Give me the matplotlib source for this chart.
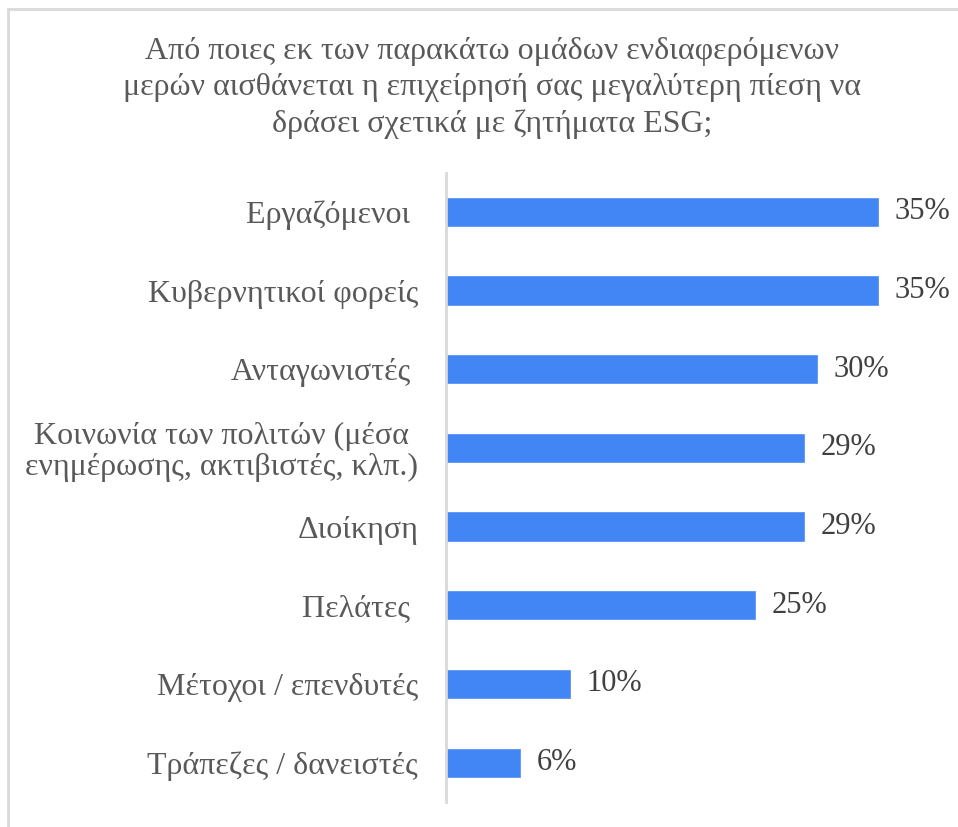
import matplotlib
matplotlib.use("Agg")
import matplotlib.pyplot as plt
from matplotlib.lines import Line2D

categories = [
    "Εργαζόμενοι ",
    "Κυβερνητικοί φορείς",
    "Ανταγωνιστές ",
    "Κοινωνία των πολιτών (μέσα\nενημέρωσης, ακτιβιστές, κλπ.)",
    "Διοίκηση",
    "Πελάτες ",
    "Μέτοχοι / επενδυτές",
    "Τράπεζες / δανειστές",
]
values = [35, 35, 30, 29, 29, 25, 10, 6]
value_labels = ["35%", "35%", "30%", "29%", "29%", "25%", "10%", "6%"]
title = ("Από ποιες εκ των παρακάτω ομάδων ενδιαφερόμενων\n"
         "μερών αισθάνεται η επιχείρησή σας μεγαλύτερη πίεση να\n"
         "δράσει σχετικά με ζητήματα ESG;")

plt.rcParams['font.family'] = ['Liberation Serif', 'DejaVu Serif']

W, H = 958, 827
fig = plt.figure(figsize=(W / 100, H / 100), dpi=100)
fig.patch.set_facecolor("white")

left, right = 446, 940
top, bottom = 172.6, 802
ax = fig.add_axes([left / W, 1 - bottom / H, (right - left) / W, (bottom - top) / H])

ypos = list(range(len(categories)))
ax.barh(ypos, values, height=0.36, color="#4285F4", edgecolor="#5a95f5", linewidth=0.6)
ax.set_xlim(0, 40)
ax.set_ylim(len(categories) - 0.5, -0.5)
ax.set_yticks(ypos)
ax.set_yticklabels(categories, fontsize=23, color="#595959", multialignment="center",
                   linespacing=1.05)
ax.tick_params(axis="y", length=0, pad=20)
ax.set_xticks([])
for s in ["top", "right", "bottom"]:
    ax.spines[s].set_visible(False)
ax.spines["left"].set_color("#d9d9d9")
ax.spines["left"].set_linewidth(2)

for y, v, lab in zip(ypos, values, value_labels):
    ax.annotate(lab, (v, y), xytext=(12, 0), textcoords="offset points",
                ha="left", va="center", fontsize=22, color="#404040")

fig.text(492 / W, 1 - 88 / H, title, ha="center", va="center", fontsize=23,
         color="#595959", linespacing=1.32)

# frame lines (top and left)
fig.add_artist(Line2D([8 / W, 1], [1 - 9 / H, 1 - 9 / H], color="#d9d9d9", lw=2,
                      transform=fig.transFigure))
fig.add_artist(Line2D([8 / W, 8 / W], [0, 1 - 9 / H], color="#d9d9d9", lw=2,
                      transform=fig.transFigure))

fig.savefig("out.png", dpi=100)
